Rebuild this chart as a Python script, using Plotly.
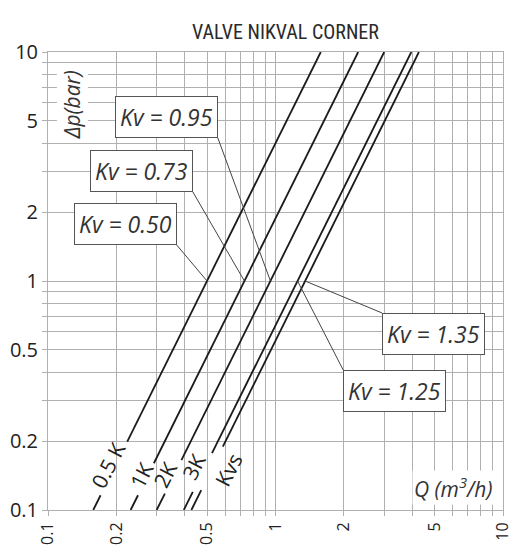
import numpy as np
import plotly.graph_objects as go

# ---- data ----
kv_values = [0.50, 0.73, 0.95, 1.25, 1.35]
line_labels = ["0.5 K", "1K", "2K", "3K", "Kvs"]
dp_range = [0.1, 10.0]
# pressure-drop interval (bar) where each line is interrupted by its label
gap_lo = [0.116, 0.116, 0.118, 0.120, 0.122]
gap_hi = [0.199, 0.160, 0.165, 0.177, 0.189]
kv_box_text = ["Kv = 0.50", "Kv = 0.73", "Kv = 0.95", "Kv = 1.35", "Kv = 1.25"]
kv_box_target = [0.50, 0.73, 0.95, 1.35, 1.25]
tick_major = [0.1, 0.2, 0.5, 1, 2, 5, 10]
tick_major_text = ["0.1", "0.2", "0.5", "1", "2", "5", "10"]

# ---- layout helpers (positions only) ----
box_corner = [(0.368, 1.436, "right", "bottom"),
              (0.433, 2.45, "right", "bottom"),
              (0.558, 4.21, "right", "bottom"),
              (2.94, 0.725, "left", "top"),
              (1.986, 0.408, "left", "top")]
line_label_pos = [(0.184, 0.157), (0.258, 0.142), (0.327, 0.142), (0.4357, 0.1545), (0.621, 0.1495)]

grid_vals = []
for d in [0.1, 1]:
    for m in range(1, 10):
        grid_vals.append(round(d * m, 3))
grid_vals.append(10)
grid_text = [tick_major_text[tick_major.index(v)] if v in tick_major else "" for v in grid_vals]

GRID = "#b0b0b0"
NARROW = "Liberation Sans Narrow, Roboto Condensed, Arial Narrow, sans-serif"
FONT = "Open Sans, Roboto, sans-serif"

fig = go.Figure()
for kv, lo, hi in zip(kv_values, gap_lo, gap_hi):
    dps = [dp_range[0], lo, None, hi, dp_range[1]]
    xs = [kv * np.sqrt(d) if d is not None else None for d in dps]
    fig.add_trace(go.Scatter(x=xs, y=dps, mode="lines",
                             line=dict(color="#1a1a1a", width=1.8),
                             hoverinfo="skip", showlegend=False))

axis_common = dict(type="log", tickvals=grid_vals, ticktext=grid_text,
                   showgrid=True, gridcolor=GRID, gridwidth=1,
                   ticks="outside", ticklen=5, tickcolor=GRID, tickwidth=1,
                   showline=True, linecolor=GRID, linewidth=1, mirror=True,
                   zeroline=False, automargin=False)

fig.update_xaxes(range=[-1, 1], tickangle=-90,
                 tickfont=dict(family=FONT, size=16, color="#222"), **axis_common)
fig.update_yaxes(range=[-1, 1],
                 tickfont=dict(family=FONT, size=20, color="#222"), **axis_common)

annotations = []
for txt, tgt, (cx, cy, xa, ya) in zip(kv_box_text, kv_box_target, box_corner):
    annotations.append(dict(
        x=np.log10(tgt), y=0, xref="x", yref="y",
        ax=np.log10(cx), ay=np.log10(cy), axref="x", ayref="y",
        xanchor=xa, yanchor=ya,
        text="<i>" + txt + "</i>", showarrow=True, arrowhead=0,
        arrowwidth=1, arrowcolor="#444",
        font=dict(family=FONT, size=23, color="#333"),
        bgcolor="white", bordercolor="#555", borderwidth=1, borderpad=4))

for lab, (lx, ly) in zip(line_labels, line_label_pos):
    annotations.append(dict(
        x=np.log10(lx), y=np.log10(ly), xref="x", yref="y",
        text=lab, showarrow=False, textangle=-63,
        font=dict(family=FONT, size=21, color="#222")))

annotations.append(dict(
    x=np.log10(0.128), y=np.log10(5.87), xref="x", yref="y",
    text="<i>Δp(bar)</i>", showarrow=False, textangle=-90,
    bgcolor="white", font=dict(family=FONT, size=21, color="#333")))
annotations.append(dict(
    x=np.log10(6.05), y=np.log10(0.125), xref="x", yref="y",
    text="<i>Q (m<sup>3</sup>/h)</i>", showarrow=False,
    bgcolor="white", font=dict(family=FONT, size=21, color="#333")))
annotations.append(dict(
    x=(285 - 48) / (503 - 48), y=1 + (52 - 18) / (510 - 52),
    xref="paper", yref="paper",
    text="VALVE NIKVAL CORNER", showarrow=False,
    font=dict(family=NARROW, size=20, color="#2a2a2a")))

# the page body adds an 8px offset, so the figure is sized to fit the window
fig.update_layout(width=516, height=538,
                  margin=dict(l=40, r=21, t=44, b=36),
                  plot_bgcolor="white", paper_bgcolor="white",
                  annotations=annotations)

fig.write_html("out.html")
